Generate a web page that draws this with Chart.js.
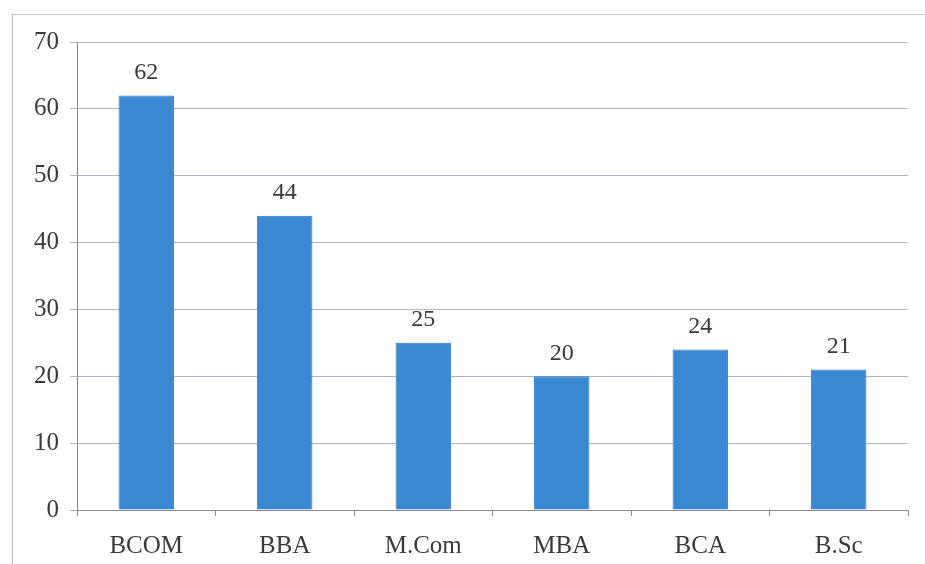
<!DOCTYPE html>
<html>
<head>
<meta charset="utf-8">
<script src="https://cdn.jsdelivr.net/npm/chart.js@4"></script>
<style>
  html, body { margin: 0; padding: 0; background: #fff; }
  #wrap { position: relative; width: 925px; height: 564px; }
  #frame { position: absolute; left: 12px; top: 14px; right: 0; bottom: 0;
           border-left: 1px solid #b8b8b8; border-top: 1px solid #c8c8c8; }
  canvas { position: absolute; left: 0; top: 0; }
</style>
</head>
<body>
<div id="wrap">
  <div id="frame"></div>
  <canvas id="myChart" width="925" height="564"></canvas>
</div>
<script>
const courses = ["BCOM", "BBA", "M.Com", "MBA", "BCA", "B.Sc"];
const students = [62, 44, 25, 20, 24, 21];
const yTicks = [0, 10, 20, 30, 40, 50, 60, 70];

const fontFamily = "'Liberation Serif', 'Times New Roman', serif";
const textColor = "#3a3a3a";

// draws the value above each bar
const valueLabels = {
  id: "valueLabels",
  afterDatasetsDraw(chart) {
    const ctx = chart.ctx;
    const meta = chart.getDatasetMeta(0);
    ctx.save();
    ctx.font = "24px " + fontFamily;
    ctx.fillStyle = textColor;
    ctx.textAlign = "center";
    ctx.textBaseline = "bottom";
    meta.data.forEach((bar, i) => {
      ctx.fillText(String(students[i]), bar.x, bar.y - 11);
    });
    ctx.restore();
  },
};

const data = {
  labels: courses,
  datasets: [
    {
      label: "Students",
      data: students,
      backgroundColor: "#3a88d2",
      borderColor: "#2f7cc4",
      borderWidth: 1,
      categoryPercentage: 1,
      barPercentage: 0.4,
    },
  ],
};

const config = {
  type: "bar",
  data: data,
  options: {
    responsive: false,
    animation: false,
    layout: {
      padding: { top: 42, right: 17, left: 0, bottom: 0 },
    },
    plugins: {
      legend: { display: false },
      tooltip: { enabled: false },
    },
    scales: {
      x: {
        offset: true,
        grid: {
          display: true,
          drawOnChartArea: false,
          offset: true,
          tickLength: 6,
          color: "#8a8a8a",
        },
        border: { color: "#8a8a8a" },
        ticks: {
          color: textColor,
          padding: 15,
          font: { family: fontFamily, size: 25 },
        },
        afterFit: (scale) => { scale.height = 54; },
      },
      y: {
        min: yTicks[0],
        max: yTicks[yTicks.length - 1],
        afterBuildTicks: (scale) => {
          scale.ticks = yTicks.map((v) => ({ value: v }));
        },
        grid: {
          color: "#b4b4c2",
          tickLength: 7,
        },
        border: { color: "#8a8a8a" },
        ticks: {
          color: textColor,
          padding: 11,
          font: { family: fontFamily, size: 25 },
        },
        afterFit: (scale) => { scale.width = 77; },
      },
    },
  },
  plugins: [valueLabels],
};

const canvas = document.getElementById("myChart");
const ctx = canvas.getContext("2d");
const myChart = new Chart(ctx, config);
</script>
</body>
</html>
